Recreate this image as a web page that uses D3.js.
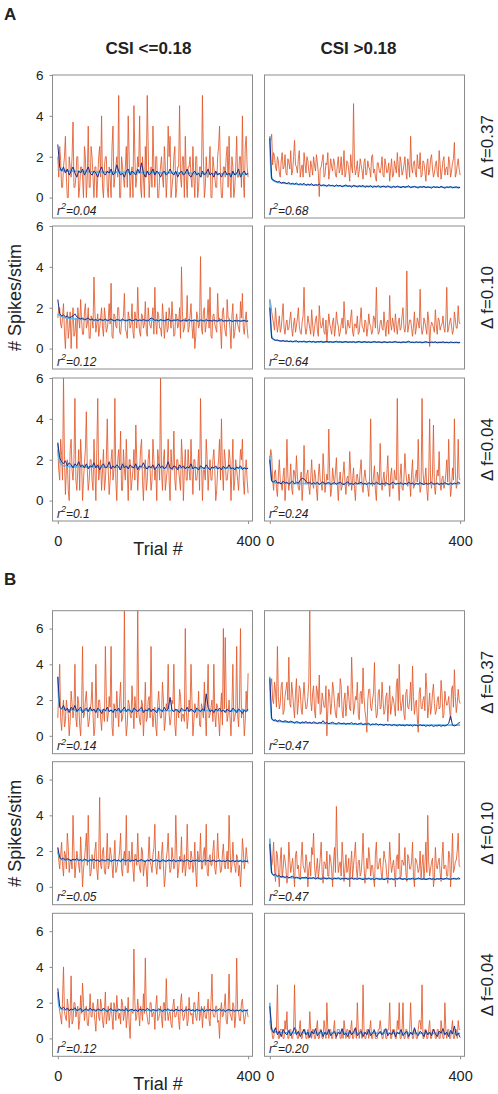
<!DOCTYPE html>
<html><head><meta charset="utf-8">
<script src="https://cdn.jsdelivr.net/npm/d3@7"></script>
<style>body{margin:0;background:#fff}svg{display:block}</style>
</head><body>
<script>
// ---------- DATA ----------
const trialsEven = d3.range(0, 401, 4); // trials 0,4,...,400
const trialsOdd = d3.range(2, 400, 4);  // trials 2,6,...,398
const columnTitles = ["CSI <=0.18", "CSI >0.18"];
const rowLabels = ["\u0394 f=0.37", "\u0394 f=0.10", "\u0394 f=0.04"];
const yTicks = [0, 2, 4, 6];
const xTicks = [0, 400];

// Figure A
const orangeA1L = [2.0,2.5,0.5,1.5,3.0,0,2.0,1.0,3.7,0.5,2.0,0,1.5,1.0,2.5,0,3.5,0.5,2.0,0,1.5,1.0,2.5,4.0,0,2.0,0.5,1.5,0,3.5,1.0,2.0,5.0,0,1.5,0.5,2.5,4.0,0,1.5,4.5,0.5,2.0,4.0,0,1.0,2.5,5.0,0,1.5,3.5,0.5,2.0,0,1.5,1.0,2.5,0,3.5,3.0,0.5,2.0,0,1.5,4.5,0.5,2.0,3.0,0,1.5,1.0,2.5,0,2.0,0.5,1.5,5.0,0,2.0,1.0,2.5,0,1.5,0.5,2.0,3.5,0,1.5,1.0,2.5,3.0,0,1.5,0.5,3.0,1.0,2.0,4.0,0,3.0,1.0];
const orangeA1LOdd = [1.0,1.8,0.5,2.0,1.0,0,1.5,2.0,0.5,1.0,2.0,0.5,1.5,0,2.0,1.0,0.5,2.5,1.0,1.5,0,2.0,1.0,0.5,1.5,2.0,0,1.0,2.5,0.5,1.5,1.0,0,2.0,1.0,1.5,0.5,2.0,1.0,0,2.0,1.0,1.5,0.5,2.0,0,1.0,2.5,1.0,0.5,1.5,2.0,0,1.0,2.0,0.5,1.5,1.0,2.0,0,1.0,2.5,0.5,1.5,1.0,2.0,0,1.0,1.5,2.0,0.5,1.0,2.0,0,1.5,1.0,2.0,0.5,1.0,1.5,0,2.0,1.0,0.5,2.5,1.0,0,1.5,2.0,0.5,1.0,2.0,0,1.5,1.0,2.0,0.5,1.0,2.5,1.5];
const blueA1L = [2.6,1.5,1.3,1.5,1.2,1.4,1.1,1.3,1.5,1.2,1.0,1.3,1.2,1.4,1.1,1.3,1.5,1.2,1.1,1.3,1.2,1.0,1.3,1.5,1.2,1.1,1.3,1.2,1.4,1.1,1.2,1.6,1.3,1.1,1.2,1.0,1.3,1.4,1.1,1.3,1.2,1.1,1.4,1.2,1.7,1.2,1.0,1.3,1.1,1.2,1.4,1.1,1.3,1.2,1.0,1.2,1.3,1.1,1.2,1.4,1.2,1.1,1.3,1.0,1.2,1.3,1.1,1.2,1.4,1.1,1.0,1.2,1.3,1.1,1.2,1.0,1.3,1.1,1.2,1.4,1.1,1.2,1.0,1.3,1.1,1.2,1.0,1.2,1.3,1.1,1.2,1.0,1.3,1.1,1.2,1.4,1.0,1.2,1.3,1.1,1.2];
const fitA1L = [[0,1.4],[10,1.32],[50,1.28],[200,1.22],[400,1.15]];

const orangeA1R = [3.0,3.1,2.2,1.5,2.0,1.2,1.8,1.4,2.1,1.1,1.7,2.3,1.3,2.8,1.5,1.9,1.0,1.6,2.2,1.2,1.8,1.0,1.5,2.0,1.3,1.7,0.05,1.5,2.1,1.1,1.6,0.9,1.9,1.3,1.7,1.0,2.0,1.4,1.1,2.3,1.2,1.7,0.8,1.5,4.6,1.1,1.8,1.3,1.6,0.9,1.9,1.2,1.5,1.0,2.1,1.4,0.8,1.7,1.2,2.0,1.0,1.6,1.3,0.8,1.9,1.1,1.5,2.2,1.0,1.7,1.3,2.0,0.9,1.6,3.0,1.2,1.8,1.0,1.5,2.2,1.1,1.7,0.8,1.9,1.3,2.1,1.0,1.6,1.2,2.3,0.9,1.8,1.1,1.5,2.0,1.0,1.7,2.7,1.2,1.9,1.1];
const orangeA1ROdd = [2.8,1.6,2.0,1.3,1.8,1.0,2.2,1.5,1.2,1.9,1.4,1.1,2.0,1.6,1.2,2.3,1.4,1.0,1.7,2.0,1.3,1.8,1.1,1.6,2.1,1.2,1.4,1.8,1.0,1.7,2.2,1.3,1.5,1.9,1.1,1.6,1.2,2.0,1.5,1.0,1.8,1.3,2.1,1.2,1.6,1.4,1.0,1.9,1.3,1.7,1.1,1.8,1.4,2.0,1.2,1.0,1.7,1.3,1.5,1.1,1.9,1.2,1.7,1.4,1.0,1.8,1.2,1.5,2.0,1.1,1.6,1.3,1.9,1.0,1.5,1.7,1.2,2.1,1.4,1.0,1.8,1.3,1.6,1.1,1.9,1.4,1.2,1.8,1.0,1.6,1.3,2.0,1.4,1.1,1.7,1.3,1.9,1.0,1.6,1.4];
const blueA1R = [2.9,0.9,0.85,0.8,0.75,0.8,0.7,0.75,0.72,0.68,0.74,0.66,0.7,0.65,0.72,0.62,0.68,0.64,0.7,0.6,0.66,0.62,0.68,0.58,0.64,0.6,0.66,0.57,0.62,0.6,0.55,0.63,0.58,0.6,0.54,0.62,0.57,0.6,0.52,0.58,0.62,0.55,0.58,0.5,0.6,0.56,0.52,0.58,0.54,0.6,0.5,0.56,0.53,0.58,0.5,0.55,0.52,0.58,0.5,0.54,0.56,0.5,0.57,0.52,0.48,0.55,0.5,0.56,0.52,0.48,0.55,0.5,0.53,0.58,0.48,0.52,0.55,0.5,0.47,0.54,0.5,0.56,0.48,0.52,0.5,0.46,0.54,0.5,0.52,0.48,0.55,0.5,0.46,0.52,0.5,0.54,0.48,0.5,0.52,0.47,0.5];
const fitA1R = [[0,3.0],[2,1.5],[4,0.95],[10,0.8],[30,0.7],[100,0.6],[200,0.55],[400,0.5]];

const orangeA2L = [1.5,2.0,1.0,2.2,0,1.8,1.0,0,2.0,0.8,0,1.5,2.4,0.7,1.8,1.0,2.0,0.5,1.5,3.5,0.8,1.7,1.0,2.0,0.6,1.5,1.0,2.2,3.2,0.5,1.6,1.0,2.0,0.7,1.4,2.7,0.8,1.8,1.0,2.2,0.5,1.5,3.0,0.8,1.7,1.0,2.3,0.6,1.4,1.0,2.0,3.0,0.7,1.6,1.0,2.2,0.5,1.8,1.0,1.5,2.3,0.6,1.7,1.0,2.0,4.0,0.8,1.5,2.6,1.0,2.2,0.5,0,1.8,1.0,4.5,0.7,2.0,1.2,2.4,3.0,0.5,1.7,1.0,2.7,1.5,0,2.0,0.8,2.4,1.5,0,2.2,0.8,1.7,1.0,2.3,2.7,0.7,1.8,0.5];
const orangeA2LOdd = [2.0,1.2,1.6,0.8,1.4,0.5,1.8,1.2,0.6,1.5,2.0,1.0,1.4,0.7,2.2,1.2,0.5,1.6,1.0,1.8,1.2,0.6,1.5,1.0,2.0,0.8,1.4,1.2,0.6,1.7,1.1,2.0,0.8,1.3,1.6,1.0,0.5,1.5,1.2,0.8,1.8,1.0,1.4,0.6,1.6,1.2,0.9,2.0,1.1,1.5,0.7,1.3,1.8,1.0,0.6,1.5,1.2,0.8,2.0,1.0,1.4,0.7,1.6,1.2,0.5,1.8,1.0,1.3,0.8,1.6,1.1,1.4,0.6,1.5,1.2,1.0,1.8,0.8,1.5,1.0,0.6,1.6,1.2,0.8,1.4,1.0,1.8,1.2,0.6,1.5,1.0,1.6,0.5,1.3,1.2,0.8,1.5,1.0,1.4,1.0];
const blueA2L = [2.4,1.7,1.6,1.65,1.55,1.6,1.5,1.55,1.6,1.7,1.55,1.5,1.45,1.5,1.4,1.45,1.5,1.4,1.45,1.38,1.42,1.35,1.45,1.4,1.38,1.44,1.36,1.4,1.45,1.38,1.35,1.42,1.4,1.36,1.44,1.38,1.35,1.4,1.42,1.36,1.38,1.45,1.35,1.4,1.37,1.42,1.38,1.35,1.4,1.5,1.45,1.38,1.4,1.35,1.42,1.38,1.36,1.4,1.44,1.37,1.35,1.4,1.38,1.42,1.36,1.35,1.4,1.38,1.36,1.42,1.35,1.38,1.4,1.36,1.34,1.4,1.37,1.35,1.42,1.36,1.38,1.34,1.4,1.36,1.35,1.38,1.42,1.34,1.37,1.35,1.4,1.36,1.33,1.38,1.35,1.37,1.34,1.36,1.38,1.34,1.35];
const fitA2L = [[0,1.7],[10,1.55],[40,1.45],[100,1.4],[400,1.35]];

const orangeA2R = [2.4,1.8,1.2,2.0,0.8,1.6,1.0,2.2,0.7,1.4,1.0,1.8,0.6,1.5,1.1,2.0,0.8,1.3,3.0,0.7,1.6,1.0,1.9,0.6,1.4,0.9,2.1,1.0,1.5,0.7,0.3,1.7,1.0,1.3,0.6,1.8,1.1,0.8,1.5,2.3,0.7,1.4,1.0,1.9,0.6,1.2,1.6,0.8,2.0,1.0,1.4,0.6,1.7,1.1,0.8,1.5,3.0,0.7,1.3,1.0,1.8,0.6,1.4,2.6,0.9,1.2,1.7,0.7,1.5,1.0,2.0,0.8,3.8,1.1,1.4,0.6,1.8,1.0,1.3,2.9,0.7,1.5,1.0,1.8,0.1,1.3,1.0,1.9,0.7,1.4,1.1,1.6,0.8,3.0,1.0,1.5,0.7,1.8,1.0,2.1,1.2];
const orangeA2ROdd = [2.2,1.5,0.9,1.3,1.2,0.8,1.6,1.0,1.2,0.9,1.4,1.0,1.2,0.8,1.5,1.1,0.7,1.6,1.1,1.0,1.3,0.7,1.2,1.0,1.6,0.6,1.3,1.1,0.8,1.4,1.0,1.2,0.7,1.5,1.0,1.3,0.6,1.2,1.0,1.4,0.9,1.1,1.5,0.8,1.2,1.0,0.7,1.4,1.1,0.8,1.3,1.0,1.2,0.7,1.6,1.0,1.2,0.8,1.4,0.9,1.1,1.3,0.7,1.2,1.5,0.8,1.1,1.3,0.9,1.6,1.0,1.2,0.8,1.4,1.0,1.1,0.7,1.5,1.0,1.2,0.9,1.3,0.7,1.4,1.0,1.2,0.8,1.1,1.5,0.9,1.2,1.0,1.4,0.8,1.3,1.1,0.9,1.4,1.0,1.3];
const blueA2R = [2.0,0.5,0.45,0.4,0.42,0.38,0.36,0.4,0.35,0.38,0.34,0.37,0.33,0.36,0.38,0.32,0.35,0.33,0.37,0.31,0.34,0.36,0.32,0.35,0.3,0.34,0.33,0.36,0.3,0.33,0.35,0.31,0.34,0.3,0.33,0.36,0.31,0.34,0.3,0.32,0.35,0.3,0.33,0.31,0.34,0.29,0.33,0.35,0.3,0.32,0.34,0.3,0.33,0.29,0.32,0.35,0.3,0.33,0.31,0.28,0.34,0.31,0.29,0.33,0.3,0.32,0.35,0.3,0.31,0.28,0.33,0.3,0.32,0.36,0.3,0.31,0.29,0.33,0.3,0.32,0.28,0.31,0.34,0.3,0.29,0.32,0.3,0.33,0.28,0.31,0.3,0.33,0.29,0.31,0.28,0.32,0.3,0.29,0.31,0.28,0.3];
const fitA2R = [[0,2.4],[2,1.2],[4,0.6],[10,0.42],[30,0.36],[100,0.33],[400,0.3]];

const orangeA3L = [2.5,1.0,2.2,6.0,0.3,2.0,0,3.0,1.0,5.0,0.5,2.5,3.0,0,1.8,4.35,0.5,2.0,1.0,3.0,0,5.0,1.5,0.5,2.5,1.0,4.0,0.3,2.0,1.0,5.0,0,2.5,3.4,0.5,1.5,3.0,0,2.0,1.0,2.5,3.7,0.5,1.5,3.0,0,2.0,1.0,2.5,0.5,3.0,1.0,0,2.0,6.0,0.5,2.5,1.0,3.0,0,1.5,3.4,0.5,2.0,1.0,3.0,0,2.5,1.0,1.5,3.0,0.3,2.0,1.0,2.5,5.0,0,1.5,3.0,0.5,2.0,1.0,2.5,0,1.5,3.0,4.0,0.5,2.0,1.0,2.5,0,3.0,1.0,1.5,0.5,2.5,3.0,0.3,2.0,0.35];
const orangeA3LOdd = [1.5,3.0,1.0,2.0,1.5,0.5,2.5,1.5,2.0,1.0,1.5,0.5,2.0,1.0,2.5,1.5,1.0,2.0,0.5,1.5,2.5,1.0,2.0,1.5,0.5,2.0,1.5,1.0,2.5,1.5,1.0,2.0,1.5,0.5,2.5,1.0,1.5,2.0,0.5,1.5,1.0,2.0,1.5,2.5,1.0,1.5,0.5,2.0,1.5,1.0,2.0,1.5,2.5,1.0,1.5,2.0,0.5,1.5,1.0,2.5,1.5,1.0,2.0,1.5,0.5,2.0,1.5,1.0,2.5,1.0,1.5,2.0,1.0,1.5,0.5,2.0,1.5,1.0,2.0,1.5,1.0,2.0,1.5,0.5,2.0,1.0,1.5,2.5,1.0,1.5,2.0,1.5,0.5,2.0,1.0,1.5,2.0,1.0,1.5,1.0];
const blueA3L = [2.8,2.1,1.9,1.8,1.95,1.7,1.85,1.75,1.6,1.8,1.7,1.9,1.65,1.75,1.6,1.8,1.55,1.7,1.65,1.85,1.6,1.75,1.5,1.7,1.8,1.6,1.65,1.9,1.55,1.7,1.6,1.75,1.65,1.5,1.8,1.6,1.7,1.55,1.75,1.65,1.6,1.8,1.5,1.7,1.65,1.85,1.6,1.55,1.7,1.6,1.75,1.5,1.65,1.8,1.6,1.7,1.55,1.65,1.9,1.6,1.55,1.7,1.65,1.5,1.75,1.6,1.7,1.55,1.65,1.6,1.8,1.55,1.65,1.6,1.5,1.7,1.62,1.55,1.75,1.6,1.5,1.65,1.6,1.7,1.55,1.62,1.5,1.68,1.58,1.6,1.75,1.55,1.6,1.5,1.65,1.58,1.7,1.52,1.6,1.55,1.58];
const fitA3L = [[0,2.85],[2,2.2],[4,1.9],[10,1.72],[30,1.66],[100,1.63],[400,1.58]];

const orangeA3R = [1.8,2.2,0.5,1.5,0.2,2.0,0.8,1.2,0,3.0,0.5,1.8,0.3,1.4,2.2,0.6,1.0,0,2.7,0.8,1.5,0.3,2.0,0.6,1.2,0,1.8,0.9,2.3,0.4,1.3,3.5,0.2,1.6,0.8,2.1,0,1.4,0.7,1.9,0.3,1.2,2.4,0.5,1.6,0,1.3,0.8,2.0,0.4,1.5,0.9,0.2,4.0,0.7,1.7,0,1.2,2.8,0.5,1.4,0.8,2.2,0.2,1.6,0.6,1.1,5.0,0,1.8,0.5,2.3,0.9,1.3,0.2,2.0,0.7,1.5,3.0,0.4,5.0,0.8,1.6,0,4.0,0.6,3.7,0.3,1.5,2.4,0.5,1.2,0.8,2.0,3.0,0.2,1.6,4.0,0.6,3.0,1.0];
const orangeA3ROdd = [2.5,1.0,1.4,0.6,1.2,1.0,0.5,1.6,0.8,1.2,1.0,0.6,1.5,0.9,1.2,0.5,1.4,0.8,1.0,1.3,0.7,1.1,0.9,1.5,0.6,1.2,1.0,0.5,1.4,0.8,1.0,1.2,0.6,1.1,1.4,0.8,1.0,0.5,1.3,0.9,1.1,0.7,1.4,1.0,0.6,1.2,0.9,1.5,0.7,1.1,1.0,0.6,1.3,0.9,1.2,0.5,1.4,0.8,1.1,1.0,0.7,1.3,0.9,1.2,0.6,1.5,1.0,0.8,1.2,0.6,1.1,1.4,0.7,1.0,1.3,0.6,1.2,0.9,1.1,0.7,1.4,1.0,0.6,1.2,0.9,1.3,0.7,1.0,1.2,0.8,1.1,0.6,1.3,0.9,1.2,0.7,1.0,1.4,0.8,1.1];
const blueA3R = [2.0,0.95,0.9,1.0,0.85,0.9,0.8,0.95,0.85,0.9,0.8,0.88,0.95,0.82,0.9,0.85,1.0,1.1,1.05,0.95,0.85,0.9,0.8,0.88,0.82,0.9,0.78,0.86,0.92,0.8,0.85,0.9,0.78,0.84,0.88,0.8,0.86,0.9,0.82,0.78,0.86,0.92,0.8,0.84,0.78,0.88,0.82,0.85,0.9,0.8,0.84,0.78,0.88,0.82,0.86,0.8,0.9,0.84,0.78,0.85,0.8,0.88,0.82,0.78,0.86,0.9,0.8,0.84,0.82,0.88,0.78,0.85,0.8,0.9,0.82,0.86,0.78,0.84,0.8,0.88,0.82,0.78,0.86,0.8,0.84,0.9,0.8,0.82,0.86,0.78,0.84,0.8,0.88,0.82,0.78,0.85,0.8,0.86,0.82,0.9,0.85];
const fitA3R = [[0,2.2],[2,1.4],[4,1.0],[10,0.88],[30,0.85],[100,0.83],[400,0.82]];

// Figure B
const orangeB1L = [1.0,4.0,0.3,2.0,0.8,1.5,0,2.5,1.0,4.0,0.5,1.8,0,5.0,1.2,2.5,0.5,1.5,3.0,0,4.0,1.0,2.0,0.3,1.5,5.0,0.8,2.2,5.0,0,1.5,2.5,0.5,3.0,1.0,7.0,0,2.0,1.2,2.8,0.4,1.5,7.0,0.8,2.0,0,3.0,1.0,2.2,5.0,0.5,1.6,0,2.5,1.0,3.0,0.3,1.8,4.0,0.6,2.0,4.0,0,1.5,2.6,0.8,1.2,6.0,0.4,2.0,4.0,0,1.8,1.0,2.5,0.5,1.5,3.0,0,4.0,1.2,2.0,4.0,0.5,1.6,0,2.4,6.0,5.5,0.8,2.0,0,4.0,1.0,5.0,0.5,6.0,1.5,0,2.5,3.5];
const orangeB1LOdd = [2.5,1.0,1.5,0.5,2.0,1.2,0.8,1.8,1.5,1.0,2.2,0.6,1.5,1.0,2.0,1.4,0.8,1.8,1.2,0.5,1.6,2.0,1.0,1.4,0.8,2.2,1.2,1.6,0.5,1.8,1.0,1.4,2.0,0.8,1.5,1.2,0.6,1.8,1.0,1.5,2.2,1.0,1.4,0.6,1.8,1.2,0.8,2.0,1.0,1.5,1.2,0.5,1.8,1.4,1.0,2.0,0.8,1.5,1.2,1.0,1.8,0.6,1.4,1.0,2.2,1.2,0.8,1.6,1.0,1.4,2.0,0.8,1.5,1.2,0.6,1.8,1.0,1.4,2.0,1.0,1.6,0.8,1.2,1.8,1.0,1.4,0.6,1.5,2.0,1.2,1.0,1.6,0.8,1.4,1.2,2.0,1.0,1.5,0.8,1.4];
const blueB1L = [3.3,1.6,1.5,1.7,1.4,1.55,1.3,1.6,1.45,1.7,1.35,1.5,1.6,1.3,1.45,1.55,1.35,1.6,1.4,1.5,1.3,1.55,1.45,1.25,1.5,1.4,1.6,1.35,1.45,1.3,1.5,1.4,1.55,1.3,1.45,1.6,1.35,1.5,1.4,1.3,1.55,1.45,1.35,1.5,1.6,1.3,1.45,1.4,1.55,1.35,1.5,1.4,1.3,1.55,1.45,1.35,1.6,1.4,1.5,2.15,1.45,1.35,1.5,1.4,1.3,1.55,1.45,1.4,1.6,1.35,1.5,1.4,1.3,1.55,1.45,1.35,1.5,1.4,2.35,1.6,1.35,1.45,1.3,1.5,1.4,1.55,1.35,1.45,1.3,1.5,1.4,1.35,1.55,1.45,1.3,1.5,1.4,1.25,1.45,1.35,1.5];
const fitB1L = [[0,3.3],[2,2.0],[4,1.6],[10,1.5],[30,1.45],[100,1.42],[400,1.4]];

const orangeB1R = [2.6,3.2,1.8,2.5,5.0,1.5,2.8,1.2,2.2,3.0,4.4,1.6,2.4,1.0,3.2,1.8,2.6,1.2,3.0,1.5,2.2,7.0,1.4,2.8,1.0,2.5,3.4,1.3,2.0,1.6,0,2.6,1.2,3.0,1.8,1.0,2.4,3.2,1.4,2.0,1.1,2.8,1.5,4.4,1.2,2.2,3.0,0.9,2.5,3.8,1.4,0.2,2.6,1.6,2.0,4.1,1.0,2.4,1.5,3.0,1.2,2.2,0.8,2.8,1.6,2.0,1.1,3.2,4.0,1.4,2.3,0.9,2.6,1.5,3.0,3.9,1.2,2.0,0.2,2.7,1.5,2.2,3.5,1.0,2.4,1.6,2.9,1.2,2.0,1.5,3.1,1.0,2.5,1.7,2.2,0.9,2.8,3.7,1.3,2.6,1.8];
const orangeB1ROdd = [2.8,2.0,3.0,1.6,2.2,1.8,3.0,1.4,2.6,2.0,1.8,3.0,1.6,2.4,1.2,2.8,1.5,2.2,2.0,1.6,3.0,2.0,2.4,1.4,2.8,1.8,1.2,2.4,1.6,2.8,1.5,2.2,1.8,2.6,1.2,2.0,1.6,2.8,1.0,2.4,1.8,2.2,1.4,2.6,1.6,2.0,1.2,2.4,1.8,2.2,1.0,2.0,2.6,1.4,2.4,1.8,1.2,2.6,1.6,2.0,1.4,2.4,1.8,1.2,2.2,1.6,2.8,1.4,2.0,1.8,1.2,2.4,1.6,2.0,1.4,2.2,1.8,1.0,2.4,1.6,2.0,1.4,2.6,1.6,1.2,2.4,1.8,1.4,2.2,1.6,2.4,1.2,2.0,1.8,1.4,2.6,1.6,2.2,1.8,2.0];
const blueB1R = [3.2,0.95,0.85,0.9,0.8,0.88,0.82,0.78,0.85,0.8,0.75,0.82,0.78,0.72,0.8,0.76,0.7,0.78,0.74,0.8,0.72,0.76,0.7,0.78,0.74,0.68,0.75,0.72,0.85,0.7,0.74,0.68,0.72,0.76,0.7,0.66,0.74,0.7,0.68,0.72,0.65,0.7,0.68,0.74,0.66,0.7,0.64,0.68,0.72,0.62,0.68,0.65,0.7,0.6,0.66,0.64,0.68,0.6,0.65,0.62,0.58,0.65,0.6,0.63,0.57,0.62,0.6,0.55,0.62,0.58,0.6,0.55,0.62,0.57,0.6,0.54,0.6,0.58,0.55,0.62,0.56,0.6,0.53,0.58,0.55,0.6,0.52,0.57,0.55,0.6,0.53,0.58,0.55,0.6,0.7,1.1,0.6,0.55,0.6,0.7,0.75];
const fitB1R = [[0,3.3],[2,1.6],[4,0.95],[10,0.85],[30,0.78],[100,0.7],[200,0.63],[400,0.6]];

const orangeB2L = [2.2,1.0,2.5,0.6,1.8,3.0,0.8,1.5,4.0,0.5,2.0,1.2,2.8,0,1.5,3.0,4.0,0.6,1.8,1.0,2.5,0.4,5.0,1.0,2.2,0.7,3.0,1.2,1.8,0.5,2.6,1.0,1.5,3.0,0.6,2.0,4.0,0.8,1.4,2.5,0.3,1.8,3.0,1.0,2.2,0.6,1.5,0,2.8,1.2,1.8,3.5,0.7,2.0,1.0,2.5,0,1.6,3.0,0.8,2.2,1.0,4.0,0.5,1.7,2.8,1.2,0.6,3.5,1.0,2.0,0.8,2.5,0,1.5,3.0,1.0,2.2,3.5,0.6,1.8,1.2,2.6,0.7,3.0,1.5,0.9,2.4,1.0,2.0,4.0,0.8,2.5,1.2,1.8,0.6,0,2.7,1.0,2.2,1.3];
const orangeB2LOdd = [1.5,1.8,1.2,2.0,1.0,2.2,1.4,1.0,2.0,1.2,1.6,0.8,1.5,1.0,2.2,1.2,1.8,0.8,1.4,2.0,1.0,1.6,1.2,2.0,0.8,1.5,1.0,2.2,1.2,1.6,0.8,1.4,2.0,1.0,1.6,1.2,0.8,2.0,1.4,1.0,1.8,1.2,1.5,0.8,2.0,1.2,1.0,1.6,1.4,0.8,2.2,1.2,1.4,1.0,1.8,1.2,0.6,2.0,1.4,1.0,1.6,1.2,2.0,1.0,1.4,0.8,1.8,1.2,1.5,1.0,1.6,1.2,0.8,2.0,1.4,1.0,1.8,1.2,0.8,1.6,1.2,2.0,1.0,1.4,1.6,0.8,1.8,1.2,1.5,1.0,2.2,1.2,1.4,0.8,1.6,1.2,1.0,2.0,1.4,1.6];
const blueB2L = [2.2,1.65,1.55,1.6,1.5,1.58,1.52,1.45,1.55,1.5,1.58,1.48,1.52,1.45,1.55,1.5,1.42,1.52,1.48,1.55,1.45,1.5,1.4,1.52,1.48,1.44,1.55,1.5,1.42,1.48,1.52,1.45,1.5,1.4,1.55,1.48,1.45,1.52,1.42,1.5,1.46,1.55,1.42,1.48,1.52,1.45,1.4,1.5,1.46,1.55,1.42,1.48,1.5,1.44,1.4,1.52,1.46,1.42,1.5,1.48,1.44,1.52,1.4,1.48,1.45,1.5,1.42,1.46,1.52,1.44,1.4,1.48,1.45,1.5,1.42,1.46,1.4,1.5,1.44,1.48,1.42,1.46,1.5,1.4,1.45,1.48,1.42,1.46,1.4,1.5,1.44,1.42,1.48,1.4,1.46,1.42,1.48,1.4,1.45,1.42,1.44];
const fitB2L = [[0,2.0],[2,1.75],[4,1.6],[10,1.52],[30,1.5],[100,1.47],[400,1.44]];

const orangeB2R = [2.6,1.2,2.5,0.3,1.8,0,2.2,1.0,1.5,0.2,2.5,0.8,1.6,0,2.0,1.2,0.4,2.5,1.0,1.8,0,1.4,2.2,3.0,0.5,1.6,1.0,2.5,0.2,1.3,2.0,0.6,1.5,0,2.2,4.5,0.8,1.4,2.5,0.3,1.8,1.0,0,2.0,1.2,2.5,0.5,1.5,0.8,3.0,0.2,1.6,2.2,0.6,1.2,0,2.5,1.0,1.6,0.4,2.0,1.3,0.2,2.5,0.8,1.5,0,1.8,3.0,0.6,1.4,2.2,0.3,1.6,1.0,2.5,0,1.5,0.8,2.0,1.2,0.4,2.5,4.0,0.6,1.4,0,2.2,1.0,1.6,0.3,2.5,1.2,0.6,2.0,0,3.0,1.0,1.5,3.0,1.1];
const orangeB2ROdd = [2.0,1.5,1.0,2.0,0.8,1.5,0.5,1.8,1.0,0.6,1.5,1.2,0.8,1.8,1.0,0.5,1.6,1.2,0.8,1.4,1.0,0.6,1.8,1.2,1.0,0.5,1.6,0.8,1.4,1.0,0.6,1.8,1.0,1.4,0.8,2.0,1.2,0.6,1.5,1.0,0.8,1.6,1.2,0.5,1.8,1.0,1.4,0.6,1.6,1.2,0.8,1.0,1.6,1.2,0.5,1.8,1.0,1.4,0.8,1.2,1.6,0.6,1.0,1.4,1.2,0.8,1.6,1.0,0.5,1.5,1.2,0.8,1.8,1.0,1.4,0.6,1.6,1.2,1.0,0.5,1.8,1.2,0.8,1.4,1.0,1.6,0.5,1.2,1.4,0.8,1.6,1.0,1.2,0.6,1.8,1.2,0.8,1.4,2.0,1.2];
const blueB2R = [2.4,0.75,0.65,0.7,0.6,0.62,0.55,0.6,0.52,0.58,0.5,0.55,0.6,0.48,0.54,0.5,0.46,0.52,0.5,0.55,0.45,0.5,0.48,0.52,0.44,0.5,0.46,0.42,0.5,0.48,0.44,0.5,0.46,0.42,0.48,0.45,0.5,0.42,0.46,0.44,0.48,0.42,0.45,0.5,0.43,0.46,0.42,0.48,0.44,0.4,0.46,0.43,0.48,0.42,0.45,0.4,0.47,0.44,0.42,0.46,0.4,0.44,0.48,0.42,0.45,0.4,0.46,0.43,0.5,0.44,0.42,0.46,0.4,0.45,0.43,0.48,0.42,0.44,0.5,0.45,0.42,0.46,0.4,0.44,0.48,0.42,0.45,0.4,0.46,0.43,0.48,0.42,0.45,0.5,0.44,0.42,0.46,0.48,0.43,0.5,0.45];
const fitB2R = [[0,2.7],[2,1.3],[4,0.8],[10,0.62],[30,0.52],[100,0.47],[400,0.44]];

const orangeB3L = [2.5,1.5,0.8,4.0,1.2,2.2,0.6,3.5,1.0,2.0,1.5,0.5,2.4,3.1,1.0,1.8,0.7,2.5,1.2,1.6,0.4,2.2,1.0,1.8,0.6,2.6,1.3,1.0,2.0,0.5,1.7,2.4,1.1,0.8,2.0,1.4,0.6,2.3,0,1.5,5.0,1.0,2.2,0.7,1.6,2.5,4.5,1.2,0.8,2.0,1.4,0.5,2.4,1.1,1.8,0.6,2.0,3.35,1.0,1.5,0.6,2.2,1.2,1.8,0.5,2.5,1.0,1.6,0.7,2.3,1.3,0.8,2.0,1.0,2.6,1.4,0.6,1.8,1.1,2.2,0.7,3.6,1.2,1.8,0.9,0,2.0,1.3,2.5,0.8,3.6,1.2,2.0,0.6,4.5,1.5,1.0,2.2,0.8,1.6,1.2];
const orangeB3LOdd = [2.0,1.2,2.2,1.5,1.0,1.8,1.4,0.8,2.0,1.2,1.8,1.0,1.4,2.0,1.6,0.8,1.5,1.2,2.0,1.0,1.6,1.2,2.2,1.0,1.5,0.8,1.8,1.4,1.2,2.0,1.0,1.6,1.4,2.2,1.0,1.8,1.2,0.8,1.6,1.4,2.0,1.2,1.5,1.8,1.0,1.4,1.6,0.8,2.0,1.2,1.5,1.8,1.0,1.4,1.2,2.0,1.0,1.6,1.4,0.8,1.8,1.2,1.5,1.0,2.0,1.4,1.2,1.8,1.0,1.5,1.4,2.0,1.2,1.6,1.0,1.8,1.4,1.2,1.6,1.0,2.0,1.4,1.2,1.8,1.0,1.5,1.2,1.8,1.0,1.6,1.4,1.0,1.8,1.2,1.6,1.0,2.0,1.4,1.2,1.5];
const blueB3L = [2.8,1.8,1.65,1.75,1.6,1.7,1.55,1.65,1.6,1.72,1.55,1.62,1.68,1.5,1.6,1.65,1.55,1.7,1.58,1.62,1.52,1.65,1.6,1.55,1.7,1.58,1.5,1.62,1.66,1.55,1.6,1.52,1.65,1.58,1.6,1.55,1.68,1.52,1.6,1.63,1.55,1.6,1.5,1.65,1.58,1.62,1.55,1.68,1.6,1.52,1.62,1.58,1.55,1.65,1.6,1.5,1.62,1.58,1.66,1.55,1.6,1.52,1.64,1.58,1.55,1.62,1.5,1.6,1.58,1.65,1.55,1.6,1.52,1.62,1.58,1.55,1.65,1.5,1.6,1.57,1.62,1.55,1.6,1.52,1.58,1.65,1.55,1.6,1.5,1.58,1.62,1.55,1.6,1.52,1.58,1.55,1.6,1.5,1.58,1.55,1.6];
const fitB3L = [[0,2.6],[2,1.9],[4,1.7],[10,1.62],[30,1.6],[100,1.58],[400,1.56]];

const orangeB3R = [1.0,0.5,0,0.5,3.0,0,0.5,0,1.0,1.5,0,0.5,0,3.0,0.5,0,1.0,0,0.5,0,0.5,1.5,0,0.5,0,1.0,0,0.5,0,0.5,2.0,0,0.5,0,1.0,0,0.5,0,0.5,1.0,0,0.5,0,1.0,0,0.5,2.0,0,0.5,3.0,0,0.5,0,1.0,0,0.5,0,0.5,1.0,0,0.5,0,0.5,2.0,0,0.5,0,1.0,2.0,0,2.0,0,0.5,0,2.0,0,0.5,0,0.5,1.0,3.0,0,0.5,0,1.0,0,0.5,0,0.5,0,1.0,0,2.0,0,0.5,0,1.0,0,0.5,1.0,0.5];
const orangeB3ROdd = [0.5,0,0.5,0.5,0,0.5,0.5,0,0.5,0,0.5,0,0.5,0.5,0,0.5,0,0.5,0.5,0,0,0.5,0.5,0,0.5,0,0.5,0,1.0,0,0.5,0.5,0,0.5,0,0.5,0.5,0,0,0.5,0.5,0,0.5,0,0.5,0,0.5,0.5,0,0.5,0,0.5,0.5,0,0.5,0,0,0.5,0.5,0,0.5,0,0.5,0,0.5,0.5,0,0.5,0,0.5,0,0.5,0,0.5,0.5,0,0.5,0,1.0,0.5,0,0.5,0,0.5,0,0.5,0.5,0,0.5,0,0.5,0,0.5,0.5,0,0.5,0,0.5,0,0.5];
const blueB3R = [1.8,0.5,0.3,0.6,0.2,0.4,0.1,0.5,0.3,0.2,0.45,0.15,0.35,0.6,0.2,0.4,0.1,0.3,0.5,0.2,0.35,0.05,0.4,0.25,0.55,0.15,0.3,0.45,0.1,0.35,0.2,0.5,0.15,0.3,0.4,0.1,0.35,0.25,0.55,0.2,0.3,0.1,0.45,0.2,0.35,0.6,0.15,0.3,0.4,0.1,0.35,0.2,0.5,0.15,0.3,0.45,0.1,0.25,0.4,0.2,0.35,0.55,0.15,0.3,0.2,0.45,0.1,0.35,0.25,0.5,0.15,0.3,0.4,0.1,0.35,0.2,0.6,0.25,0.15,0.4,0.3,0.1,0.45,0.2,0.35,0.15,0.5,0.25,0.1,0.4,0.3,0.55,0.2,0.35,0.1,0.45,0.25,0.7,0.15,0.3,0.05];
const fitB3R = [[0,2.0],[2,1.0],[4,0.55],[10,0.38],[30,0.32],[100,0.3],[400,0.28]];

const r2A = [["0.04","0.68"],["0.12","0.64"],["0.1","0.24"]];
const r2B = [["0.14","0.47"],["0.05","0.47"],["0.12","0.20"]];

// merge even/odd trial samples into one ordered [trial, value] series
function merge(even, odd) {
  const out = [];
  even.forEach((v, i) => {
    out.push([trialsEven[i], v]);
    if (i < odd.length) out.push([trialsOdd[i], odd[i]]);
  });
  return out;
}

// ---------- LAYOUT ----------
const figs = [
  {name:"A", letterY:20, tops:[75,226,378], ymax:6, r2:r2A,
   series:[[[merge(orangeA1L,orangeA1LOdd),blueA1L,fitA1L],[merge(orangeA1R,orangeA1ROdd),blueA1R,fitA1R]],
           [[merge(orangeA2L,orangeA2LOdd),blueA2L,fitA2L],[merge(orangeA2R,orangeA2ROdd),blueA2R,fitA2R]],
           [[merge(orangeA3L,orangeA3LOdd),blueA3L,fitA3L],[merge(orangeA3R,orangeA3ROdd),blueA3R,fitA3R]]]},
  {name:"B", letterY:585, tops:[610.7,761.7,913.3], ymax:7, r2:r2B,
   series:[[[merge(orangeB1L,orangeB1LOdd),blueB1L,fitB1L],[merge(orangeB1R,orangeB1ROdd),blueB1R,fitB1R]],
           [[merge(orangeB2L,orangeB2LOdd),blueB2L,fitB2L],[merge(orangeB2R,orangeB2ROdd),blueB2R,fitB2R]],
           [[merge(orangeB3L,orangeB3LOdd),blueB3L,fitB3L],[merge(orangeB3R,orangeB3ROdd),blueB3R,fitB3R]]]}
];
const colX = [52.5, 264.5], boxW = 200, boxH = 143;
const FONT = "'Liberation Sans', Arial, Helvetica, sans-serif";
const TXT = "#222";

const svg = d3.select("body").append("svg")
  .attr("width", 498).attr("height", 1094)
  .style("font-family", FONT);

columnTitles.forEach((t, c) => {
  svg.append("text").attr("x", c === 0 ? 148.5 : 358.5).attr("y", 54)
    .attr("text-anchor", "middle").attr("font-weight", "bold").attr("font-size", 17)
    .attr("fill", TXT).text(t);
});

let clipId = 0;
figs.forEach(f => {
  svg.append("text").attr("x", 4).attr("y", f.letterY).attr("font-weight", "bold")
    .attr("font-size", 17).attr("fill", TXT).text(f.name);

  f.tops.forEach((top, r) => {
    [0, 1].forEach(c => {
      const x0 = colX[c];
      const x = d3.scaleLinear().domain([0, 400]).range([x0 + 5.3, x0 + 195.6]);
      const y = d3.scaleLinear().domain([-1, f.ymax]).range([top + boxH, top]);
      const [orange, blue, fit] = f.series[r][c];
      const g = svg.append("g");
      const id = "clip" + (clipId++);
      svg.append("clipPath").attr("id", id).append("rect")
        .attr("x", x0).attr("y", top).attr("width", boxW).attr("height", boxH);
      const plot = g.append("g").attr("clip-path", `url(#${id})`);
      plot.append("path").datum(orange)
        .attr("d", d3.line().x(d => x(d[0])).y(d => y(d[1])))
        .attr("fill", "none").attr("stroke", "#e2582b").attr("stroke-width", 0.85);
      plot.append("path").datum(fit)
        .attr("d", d3.line().x(d => x(d[0])).y(d => y(d[1])).curve(d3.curveMonotoneX))
        .attr("fill", "none").attr("stroke", "#5ab8ea").attr("stroke-width", 1.6);
      plot.append("path").datum(blue)
        .attr("d", d3.line().x((d, i) => x(trialsEven[i])).y(d => y(d)))
        .attr("fill", "none").attr("stroke", "#1f2c86").attr("stroke-width", 1);

      g.append("rect").attr("x", x0).attr("y", top).attr("width", boxW).attr("height", boxH)
        .attr("fill", "none").attr("stroke", "#8c8c8c").attr("stroke-width", 1);

      const t = g.append("text").attr("x", x0 + 4.5).attr("y", top + boxH - 3.5)
        .attr("font-size", 12).attr("font-style", "italic").attr("fill", TXT);
      t.append("tspan").text("r");
      t.append("tspan").attr("dy", -5.5).attr("font-size", 9).text("2");
      t.append("tspan").attr("dy", 5.5).text("=" + f.r2[r][c]);

      if (c === 0) {
        const ay = g.append("g").attr("transform", `translate(${x0},0)`)
          .call(d3.axisLeft(y).tickValues(yTicks).tickFormat(d3.format("d")).tickSize(3).tickPadding(6));
        ay.select(".domain").remove();
        ay.selectAll("line").attr("stroke", "#8c8c8c");
        ay.selectAll("text").attr("font-size", 13.5).attr("fill", TXT).style("font-family", FONT);
      }
      if (r === 2) {
        const ax = g.append("g").attr("transform", `translate(0,${top + boxH})`)
          .call(d3.axisBottom(x).tickValues(xTicks).tickFormat(d3.format("d")).tickSize(3).tickPadding(11.5));
        ax.select(".domain").remove();
        ax.selectAll("line").attr("stroke", "#8c8c8c");
        ax.selectAll("text").attr("font-size", 14.5).attr("fill", TXT).style("font-family", FONT);
      }
      if (c === 1) {
        svg.append("text")
          .attr("transform", `translate(493,${top + boxH / 2}) rotate(-90)`)
          .attr("text-anchor", "middle").attr("font-size", 17).attr("fill", TXT)
          .text(rowLabels[r]);
      }
    });
  });
  svg.append("text").attr("transform", `translate(21,${f.tops[1] + boxH / 2}) rotate(-90)`)
    .attr("text-anchor", "middle").attr("font-size", 18).attr("fill", TXT).text("# Spikes/stim");
  svg.append("text").attr("x", 158).attr("y", f.tops[2] + boxH + 34)
    .attr("text-anchor", "middle").attr("font-size", 18).attr("fill", TXT).text("Trial #");
});
</script>
</body></html>
